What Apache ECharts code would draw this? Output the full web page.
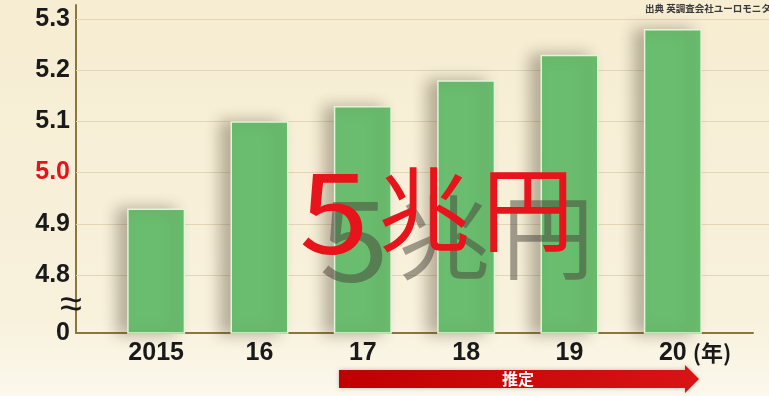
<!DOCTYPE html>
<html><head><meta charset="utf-8">
<script src="https://cdn.jsdelivr.net/npm/echarts@6/dist/echarts.min.js"></script>
<style>html,body{margin:0;padding:0;}#c{width:769px;height:396px;}</style>
</head><body><div id="c"></div>
<script>
const categories = ['2015', '16', '17', '18', '19', '20'];
const values = [4.93, 5.10, 5.13, 5.18, 5.23, 5.28];
const yTicks = [4.8, 4.9, 5.0, 5.1, 5.2, 5.3];
const yBreakValue = 4.687;   // bottom of the broken axis, labelled "0"
const yBreakLabel = '0';
const yMax = 5.327;
const highlightTick = 5.0;
const unitLabel = '(年)';
const headlineChars = ['5', '兆', '円'];
const arrowLabel = '推定';
const sourceText = '出典 英調査会社ユーロモニター';

const axisColor = '#8a7740';
const gridTop = 5, gridBottom = 63;
const chart = echarts.init(document.getElementById('c'), null, {renderer: 'canvas'});
const font = '"Liberation Sans", Arial, sans-serif';
const jp = '"Noto Sans CJK JP", sans-serif';
const red = '#e8141b';
const shade = 'rgba(70,66,55,0.5)';

function headlineParts(dx, dy, fill, isShadow) {
  const extra = isShadow ? {shadowColor: 'rgba(70,66,55,0.7)', shadowBlur: 14}
                         : {shadowColor: 'rgba(255,255,255,1)', shadowBlur: 9};
  const layout = [
    {x: 334, y: 211, scaleX: 1.12, size: 112},
    {x: 424, y: 209, scaleX: 1, size: 92},
    {x: 528, y: 209, scaleX: 1, size: 92}
  ];
  return headlineChars.map((ch, i) => ({
    type: 'text', x: layout[i].x + dx, y: layout[i].y + dy, scaleX: layout[i].scaleX, z: isShadow ? 20 : 21,
    style: Object.assign({text: ch, fill: fill, font: '400 ' + layout[i].size + 'px ' + jp, align: 'center', verticalAlign: 'middle'}, extra)
  }));
}

chart.setOption({
  animation: false,
  backgroundColor: {type: 'linear', x: 0, y: 0, x2: 0, y2: 1, colorStops: [
    {offset: 0, color: '#f6edd2'}, {offset: 0.8, color: '#f8f1dc'}, {offset: 1, color: '#fbf8ec'}]},
  grid: [
    {left: 104.5, right: 44.5, top: gridTop, bottom: gridBottom},
    {left: 76, right: 16, top: gridTop, bottom: gridBottom},
    {left: 76, right: 0, top: gridTop, bottom: gridBottom}
  ],
  xAxis: [
    {type: 'category', gridIndex: 0, data: categories, axisLine: {show: false}, axisTick: {show: false},
     axisLabel: {margin: 8, fontSize: 25, fontWeight: 'bold', color: '#1a1a1a', fontFamily: font},
     name: unitLabel, nameLocation: 'end', nameGap: 4,
     nameTextStyle: {align: 'right', verticalAlign: 'top', padding: [9, 0, 0, 0], fontSize: 22, fontWeight: 'bold', color: '#1a1a1a', fontFamily: jp}},
    {type: 'value', gridIndex: 1, min: 0, max: 1, axisLine: {show: true, onZero: false, lineStyle: {color: axisColor, width: 2}},
     axisTick: {show: false}, axisLabel: {show: false}, splitLine: {show: false}},
    {type: 'value', gridIndex: 2, min: 0, max: 1, show: false}
  ],
  yAxis: [
    {type: 'value', gridIndex: 0, min: yBreakValue, max: yMax, offset: 28.5,
     axisLine: {show: true, lineStyle: {color: axisColor, width: 2}}, axisTick: {show: false}, splitLine: {show: false},
     axisLabel: {customValues: [yBreakValue].concat(yTicks), margin: 6, fontSize: 25, fontWeight: 'bold', fontFamily: font,
       formatter: v => Math.abs(v - yBreakValue) < 1e-6 ? yBreakLabel : v.toFixed(1),
       color: v => Math.abs(v - highlightTick) < 1e-6 ? '#e3141c' : '#1a1a1a'}},
    {type: 'value', gridIndex: 1, min: yBreakValue, max: yMax, show: false},
    {type: 'value', gridIndex: 2, min: yBreakValue, max: yMax, show: false}
  ],
  series: [
    {type: 'scatter', xAxisIndex: 2, yAxisIndex: 2, symbolSize: 0, data: [[0, yTicks[0]]], z: 1, silent: true,
     markLine: {silent: true, z: 1, symbol: 'none', label: {show: false},
       lineStyle: {color: '#e2d6b6', width: 1.2, type: 'solid'},
       data: yTicks.map(v => ({yAxis: v}))}},
    {type: 'bar', xAxisIndex: 0, yAxisIndex: 0, data: values, barWidth: 58, z: 3,
     itemStyle: {color: '#6abd6f', borderColor: '#e2f5d8', borderWidth: 1.5,
       shadowColor: 'rgba(60,50,30,0.35)', shadowBlur: 14, shadowOffsetX: -10, shadowOffsetY: 0}}
  ],
  graphic: [
    {type: 'text', left: 645, top: 4, z: 10, style: {text: sourceText, fill: '#3a3a3a', font: 'bold 9.5px ' + jp}},
    {type: 'text', x: 71, y: 306, z: 10, style: {text: '≈', fill: '#1a1a1a', font: '40px ' + font, align: 'center', verticalAlign: 'middle'}}
  ].concat(headlineParts(20, 28, shade, true), headlineParts(0, 0, red, false), [
    {type: 'polygon', z: 10, shape: {points: [[339, 370], [685, 370], [685, 365], [699, 379], [685, 393], [685, 388], [339, 388]]},
     style: {fill: {type: 'linear', x: 0, y: 0, x2: 1, y2: 0, colorStops: [{offset: 0, color: '#c00000'}, {offset: 1, color: '#d81414'}]},
       shadowColor: 'rgba(0,0,0,0.25)', shadowBlur: 4}},
    {type: 'text', x: 518, y: 379, z: 11, style: {text: arrowLabel, fill: '#fff', font: 'bold 16px ' + jp, align: 'center', verticalAlign: 'middle'}}
  ])
});
</script></body></html>
